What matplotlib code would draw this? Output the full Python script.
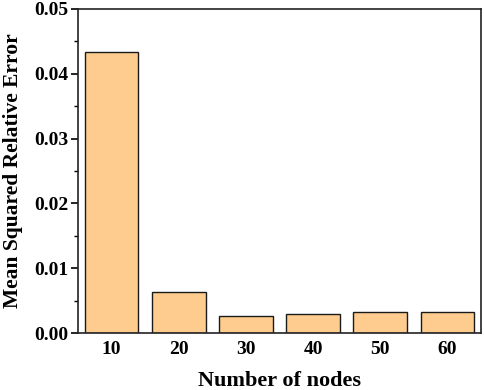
import matplotlib
matplotlib.use("Agg")
import matplotlib.pyplot as plt
import numpy as np
from matplotlib.ticker import MultipleLocator, FormatStrFormatter

nodes = ["10", "20", "30", "40", "50", "60"]
msre = [0.0434, 0.0063, 0.0026, 0.0030, 0.0032, 0.0033]

plt.rcParams["font.family"] = ["Liberation Serif", "DejaVu Serif"]
plt.rcParams["font.weight"] = "bold"

fig = plt.figure(figsize=(4.84, 3.90), dpi=100)
ax = fig.add_axes([0.161, 0.146, 0.833, 0.831])

x = np.arange(len(nodes))
ax.bar(x, msre, width=0.8, color="#FECC8E", edgecolor="#1a1a1a", linewidth=1.0)

ax.set_xlim(-0.5, len(nodes) - 0.5)
ax.set_ylim(0, 0.05)
ax.set_xticks(x)
ax.set_xticklabels(nodes)
ax.yaxis.set_major_locator(MultipleLocator(0.01))
ax.yaxis.set_minor_locator(MultipleLocator(0.005))
ax.yaxis.set_major_formatter(FormatStrFormatter("%.2f"))

ax.tick_params(axis="x", length=0, pad=6, labelsize=14)
ax.tick_params(axis="y", which="major", direction="out", length=5, width=1.2, pad=2, labelsize=14)
ax.tick_params(axis="y", which="minor", direction="out", length=3, width=1.0)

for s in ax.spines.values():
    s.set_linewidth(1.2)
    s.set_color("#222222")

ax.set_xlabel("Number of nodes", fontsize=16, fontweight="bold", labelpad=9)
ax.set_ylabel("Mean Squared Relative Error", fontsize=15.5, fontweight="bold", labelpad=8)

fig.savefig("out.png", dpi=100)
